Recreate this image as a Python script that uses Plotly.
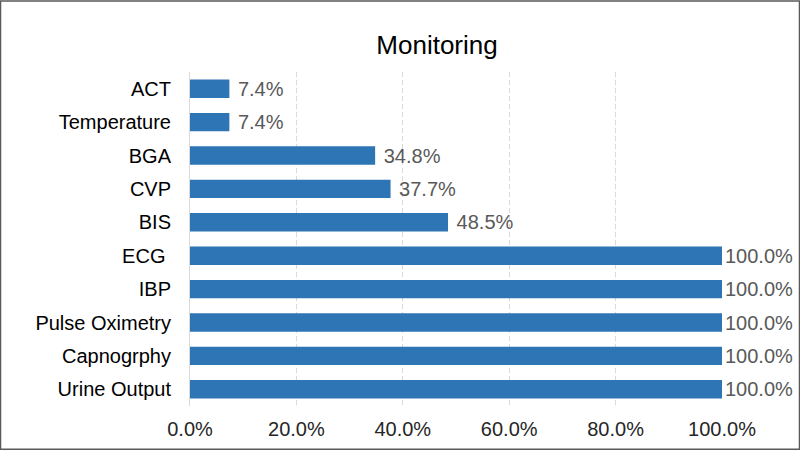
import plotly.graph_objects as go

categories = ["ACT", "Temperature", "BGA", "CVP", "BIS", "ECG ", "IBP", "Pulse Oximetry", "Capnogrphy", "Urine Output"]
values = [7.4, 7.4, 34.8, 37.7, 48.5, 100.0, 100.0, 100.0, 100.0, 100.0]
tick_vals = [0, 20, 40, 60, 80, 100]
tick_text = ["0.0%", "20.0%", "40.0%", "60.0%", "80.0%", "100.0%"]

W, H = 800, 452
L, R, T, B = 190, 78, 72, 44
pw, ph = W - L - R, H - T - B

labels = [("\u00a0" if v < 100 else "") + f"{v:.1f}%" for v in values]

fig = go.Figure(go.Bar(
    x=values, y=categories, orientation="h",
    marker=dict(color="#2E75B6", line=dict(width=0)),
    text=labels, textposition="outside", constraintext="none",
    textfont=dict(family="Liberation Sans, Arial", size=20, color="#595959"),
    cliponaxis=False,
))

fig.update_layout(
    width=W, height=H,
    margin=dict(l=L, r=R, t=T, b=B),
    paper_bgcolor="white", plot_bgcolor="white",
    bargap=0.45,
    showlegend=False,
    title=dict(text="Monitoring", x=(437 - L) / pw, xref="paper", xanchor="center",
               y=1 - 45 / H, yanchor="middle",
               font=dict(family="Liberation Sans, Arial", size=26, color="#000000")),
    font=dict(family="Liberation Sans, Arial", size=20, color="#262626"),
)
fig.update_xaxes(
    range=[0, 100], tickvals=tick_vals, ticktext=tick_text,
    showgrid=True, gridcolor="#D9D9D9", griddash="5px,3px", gridwidth=1,
    zeroline=False, showline=False, ticks="",
    tickfont=dict(size=20, color="#262626"), ticklabelstandoff=9,
)
fig.update_yaxes(
    categoryorder="array", categoryarray=categories[::-1],
    showline=True, linecolor="#D9D9D9", linewidth=1,
    ticks="", showgrid=False, tickfont=dict(size=20, color="#000000"),
    ticklabelstandoff=14,
)
fig.add_shape(type="rect", xref="paper", yref="paper",
              x0=(0.5 - L) / pw, x1=(W - 0.5 - L) / pw,
              y0=-(B - 0.5) / ph, y1=1 + (T - 0.5) / ph,
              line=dict(color="#595959", width=1.5), fillcolor="rgba(0,0,0,0)", layer="above")

fig.write_html("out.html", config={"displayModeBar": False},
               post_script="document.body.style.margin='0';document.body.style.overflow='hidden';")
